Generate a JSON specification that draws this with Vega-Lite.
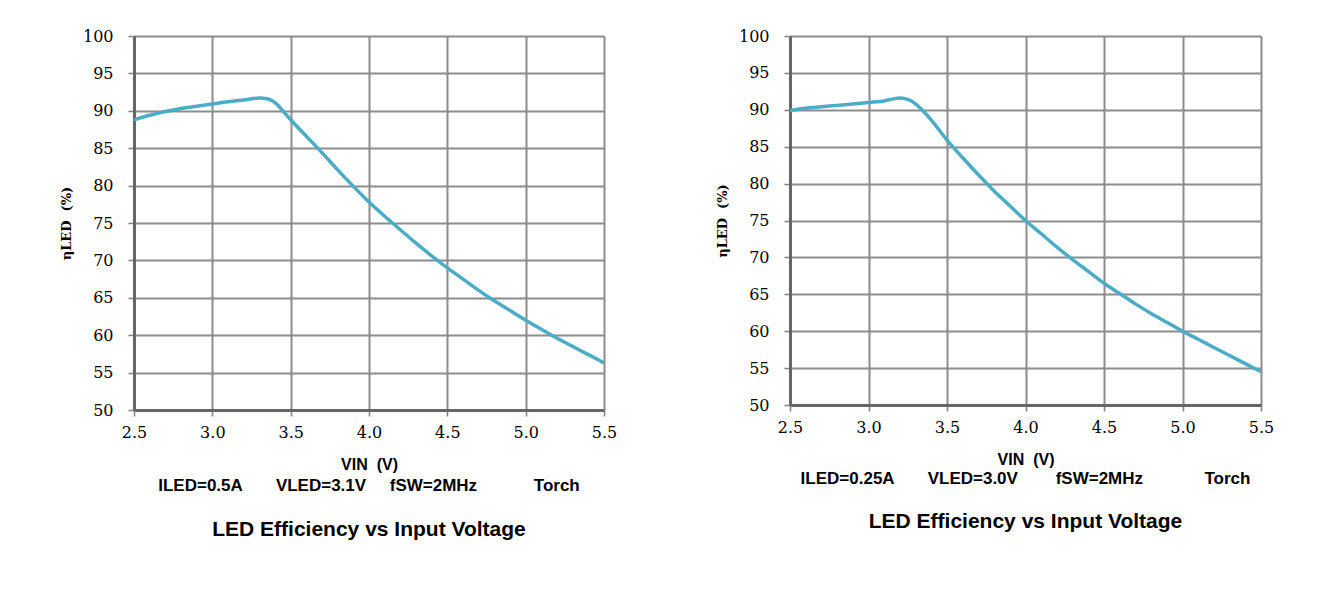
{
  "$schema": "https://vega.github.io/schema/vega-lite/v6.json",
  "background": "white",
  "padding": {"left": 60, "top": 28, "right": 5, "bottom": 5},
  "datasets": {
    "left": [
      {"vin": 2.5, "eff": 88.8}, {"vin": 2.6, "eff": 89.4}, {"vin": 2.7, "eff": 89.9},
      {"vin": 2.8, "eff": 90.3}, {"vin": 2.9, "eff": 90.6}, {"vin": 3.0, "eff": 90.9},
      {"vin": 3.1, "eff": 91.2}, {"vin": 3.2, "eff": 91.45}, {"vin": 3.3, "eff": 91.7},
      {"vin": 3.35, "eff": 91.6}, {"vin": 3.4, "eff": 91.1}, {"vin": 3.45, "eff": 90.0},
      {"vin": 3.5, "eff": 88.8}, {"vin": 3.6, "eff": 86.6}, {"vin": 3.7, "eff": 84.4},
      {"vin": 3.8, "eff": 82.1}, {"vin": 3.9, "eff": 79.9}, {"vin": 4.0, "eff": 77.8},
      {"vin": 4.1, "eff": 75.9}, {"vin": 4.2, "eff": 74.1}, {"vin": 4.3, "eff": 72.3},
      {"vin": 4.4, "eff": 70.6}, {"vin": 4.5, "eff": 69.0}, {"vin": 4.6, "eff": 67.5},
      {"vin": 4.7, "eff": 66.0}, {"vin": 4.8, "eff": 64.6}, {"vin": 4.9, "eff": 63.3},
      {"vin": 5.0, "eff": 62.0}, {"vin": 5.1, "eff": 60.8}, {"vin": 5.2, "eff": 59.6},
      {"vin": 5.3, "eff": 58.5}, {"vin": 5.4, "eff": 57.4}, {"vin": 5.5, "eff": 56.3}
    ],
    "right": [
      {"vin": 2.5, "eff": 89.9}, {"vin": 2.6, "eff": 90.2}, {"vin": 2.7, "eff": 90.4},
      {"vin": 2.8, "eff": 90.6}, {"vin": 2.9, "eff": 90.8}, {"vin": 3.0, "eff": 91.0},
      {"vin": 3.1, "eff": 91.2}, {"vin": 3.15, "eff": 91.45}, {"vin": 3.2, "eff": 91.6},
      {"vin": 3.25, "eff": 91.4}, {"vin": 3.3, "eff": 90.8}, {"vin": 3.35, "eff": 89.8},
      {"vin": 3.4, "eff": 88.6}, {"vin": 3.5, "eff": 85.9}, {"vin": 3.6, "eff": 83.5},
      {"vin": 3.7, "eff": 81.2}, {"vin": 3.8, "eff": 79.0}, {"vin": 3.9, "eff": 77.0},
      {"vin": 4.0, "eff": 75.0}, {"vin": 4.1, "eff": 73.2}, {"vin": 4.2, "eff": 71.4},
      {"vin": 4.3, "eff": 69.7}, {"vin": 4.4, "eff": 68.1}, {"vin": 4.5, "eff": 66.5},
      {"vin": 4.6, "eff": 65.1}, {"vin": 4.7, "eff": 63.7}, {"vin": 4.8, "eff": 62.4},
      {"vin": 4.9, "eff": 61.2}, {"vin": 5.0, "eff": 60.0}, {"vin": 5.1, "eff": 58.9},
      {"vin": 5.2, "eff": 57.8}, {"vin": 5.3, "eff": 56.7}, {"vin": 5.4, "eff": 55.6},
      {"vin": 5.5, "eff": 54.5}
    ]
  },
  "hconcat": [
    {
      "width": 470,
      "height": 374,
      "title": {
        "text": "ILED=0.5A\u00a0\u00a0\u00a0\u00a0\u00a0\u00a0\u00a0VLED=3.1V\u00a0\u00a0\u00a0\u00a0\u00a0fSW=2MHz\u00a0\u00a0\u00a0\u00a0\u00a0\u00a0\u00a0\u00a0\u00a0\u00a0\u00a0\u00a0Torch",
        "subtitle": "LED Efficiency vs Input Voltage",
        "orient": "bottom",
        "anchor": "middle"
      },
      "layer": [
        {
          "data": {"name": "left"},
          "mark": {"type": "line", "color": "#4BACC6", "strokeWidth": 3.5, "interpolate": "monotone", "clip": true},
          "encoding": {
            "x": {"field": "vin", "type": "quantitative", "scale": {"domain": [2.5, 5.5], "nice": false, "zero": false},
              "axis": {"title": "VIN\u00a0\u00a0(V)", "format": ".1f", "tickCount": 6}},
            "y": {"field": "eff", "type": "quantitative", "scale": {"domain": [50, 100], "nice": false, "zero": false},
              "axis": {"title": "ηLED\u00a0\u00a0(%)", "tickCount": 10}}
          }
        },
        {
          "mark": {"type": "rule", "color": "#000000", "strokeWidth": 4},
          "encoding": {"y": {"datum": 100}}
        },
        {
          "mark": {"type": "rule", "color": "#000000", "strokeWidth": 4},
          "encoding": {"x": {"datum": 5.5}}
        }
      ]
    },
    {
      "width": 471,
      "height": 369,
      "title": {
        "text": "ILED=0.25A\u00a0\u00a0\u00a0\u00a0\u00a0\u00a0\u00a0VLED=3.0V\u00a0\u00a0\u00a0\u00a0\u00a0\u00a0\u00a0\u00a0fSW=2MHz\u00a0\u00a0\u00a0\u00a0\u00a0\u00a0\u00a0\u00a0\u00a0\u00a0\u00a0\u00a0\u00a0Torch",
        "subtitle": "LED Efficiency vs Input Voltage",
        "orient": "bottom",
        "anchor": "middle",
        "offset": 4,
        "subtitlePadding": 23
      },
      "layer": [
        {
          "data": {"name": "right"},
          "mark": {"type": "line", "color": "#4BACC6", "strokeWidth": 3.5, "interpolate": "monotone", "clip": true},
          "encoding": {
            "x": {"field": "vin", "type": "quantitative", "scale": {"domain": [2.5, 5.5], "nice": false, "zero": false},
              "axis": {"title": "VIN\u00a0\u00a0(V)", "format": ".1f", "tickCount": 6}},
            "y": {"field": "eff", "type": "quantitative", "scale": {"domain": [50, 100], "nice": false, "zero": false},
              "axis": {"title": "ηLED\u00a0\u00a0(%)", "tickCount": 10}}
          }
        },
        {
          "mark": {"type": "rule", "color": "#000000", "strokeWidth": 4},
          "encoding": {"y": {"datum": 100}}
        },
        {
          "mark": {"type": "rule", "color": "#000000", "strokeWidth": 4},
          "encoding": {"x": {"datum": 5.5}}
        }
      ]
    }
  ],
  "spacing": 99,
  "config": {
    "view": {"stroke": null},
    "axisX": {
      "tickCount": 6,
      "labelFont": "DejaVu Serif",
      "labelFontSize": 16,
      "labelColor": "#000000",
      "labelFlush": false,
      "labelOverlap": false,
      "labelPadding": 8,
      "domainColor": "#666666",
      "domainWidth": 3,
      "tickColor": "#7f7f7f",
      "tickWidth": 1.5,
      "tickSize": 6,
      "grid": true,
      "gridColor": "#8c8c8c",
      "gridWidth": 2,
      "gridOpacity": 1,
      "titleFont": "Liberation Sans",
      "titleFontSize": 16,
      "titleFontWeight": "bold",
      "titleColor": "#000000",
      "titlePadding": 16
    },
    "axisY": {
      "tickCount": 10,
      "labelFont": "DejaVu Serif",
      "labelFontSize": 16,
      "labelColor": "#000000",
      "labelFlush": false,
      "labelOverlap": false,
      "labelPadding": 15,
      "domainColor": "#666666",
      "domainWidth": 3,
      "tickColor": "#7f7f7f",
      "tickWidth": 1.5,
      "tickSize": 6,
      "grid": true,
      "gridColor": "#8c8c8c",
      "gridWidth": 2,
      "gridOpacity": 1,
      "titleFont": "DejaVu Serif",
      "titleFontSize": 13,
      "titleFontWeight": "bold",
      "titleColor": "#000000",
      "titlePadding": 9
    },
    "title": {
      "font": "Liberation Sans",
      "fontSize": 17,
      "fontWeight": "bold",
      "color": "#000000",
      "offset": 6,
      "subtitleFont": "Liberation Sans",
      "subtitleFontSize": 21,
      "subtitleFontWeight": "bold",
      "subtitleColor": "#000000",
      "subtitlePadding": 24
    }
  }
}
